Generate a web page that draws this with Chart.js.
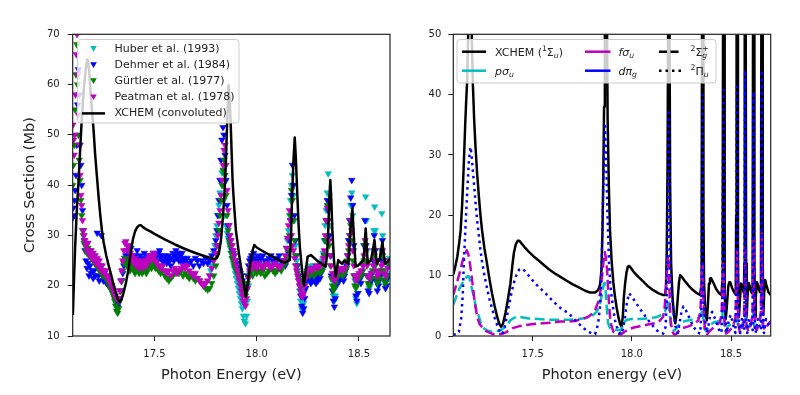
<!DOCTYPE html>
<html>
<head>
<meta charset="utf-8">
<script src="https://cdn.jsdelivr.net/npm/chart.js@4.4.1/dist/chart.umd.min.js"></script>
<style>
  html, body { margin: 0; padding: 0; background: #fff; }
  #wrap { position: relative; width: 800px; height: 395px; overflow: hidden; }
  .panel { position: absolute; top: 0; width: 400px; height: 395px; }
</style>
</head>
<body>
<div id="wrap">
  <div class="panel" style="left:0"><canvas id="leftChart"></canvas></div>
  <div class="panel" style="left:400px"><canvas id="rightChart"></canvas></div>
</div>
<script>
// ---- data: [photon energy (eV), cross section (Mb)] ----
const xTicks = [17.5, 18.0, 18.5];

const dehmer = [[17.100,33.5],[17.103,35.5],[17.106,34],[17.109,37],[17.112,39],[17.116,42],[17.120,48],[17.124,56],[17.128,63],[17.132,58],[17.136,48],[17.140,44],[17.144,40],[17.148,35],[17.152,31],[17.156,29],
[17.160,27],[17.165,25],[17.170,23.5],[17.175,24.5],[17.180,22],[17.185,24],[17.190,22.5],[17.195,23],[17.200,21.5],[17.205,23],[17.210,22],[17.215,24],[17.220,30.5],[17.225,22],[17.230,21],[17.235,23],[17.240,30],[17.245,22],[17.250,21],[17.255,22.5],[17.260,21],[17.265,20.5],[17.270,21.5],[17.275,20],[17.280,21],[17.285,19.5],[17.290,20],[17.295,19],[17.300,18.5],[17.305,17.5],[17.310,17],[17.315,16],[17.320,15.8],[17.325,16.5],[17.330,17.5],[17.335,19],[17.340,21],[17.345,22.5],[17.350,24],[17.355,25.5],[17.360,26],[17.365,27],[17.370,26],[17.375,25],[17.380,26.5],[17.385,27.5],[17.390,26],[17.395,25],[17.400,24.5],[17.405,26],[17.410,25],[17.415,27],[17.420,25.5],[17.425,24.5],[17.430,26],[17.435,25],[17.440,24],[17.445,25.5],[17.450,26.5],[17.455,25],[17.460,24.5],[17.465,26],[17.470,25],[17.475,24.5],[17.480,25.5],[17.485,26],[17.490,25],[17.495,26.5],[17.500,25],[17.505,24.5],[17.510,26],[17.515,25],[17.520,26.5],[17.525,27],[17.530,25.5],[17.535,26],[17.540,25],[17.545,24.5],[17.550,26],[17.555,25.5],[17.560,24.5],[17.565,25],[17.570,26],[17.575,25],[17.580,24],[17.585,25.5],[17.590,26.5],[17.595,25],[17.600,26],[17.605,27],[17.610,25.5],[17.615,26.5],[17.620,25],[17.625,26],[17.630,25],[17.635,26.5],[17.640,25.5],[17.645,24.5],[17.650,25],[17.660,25.5],[17.670,24.5],[17.680,25],[17.690,24],[17.700,25.5],[17.710,25],[17.720,24],[17.730,25],[17.740,24.5],[17.750,25.5],[17.760,24.5],[17.770,25],[17.780,26],[17.790,27],[17.800,29],[17.805,31],[17.810,34],[17.815,37],[17.820,41],[17.825,45],[17.830,49],[17.835,51.5],[17.840,50],[17.845,46],[17.850,41],[17.855,36],[17.860,32],[17.865,30],[17.870,29],[17.875,28],[17.880,27],[17.885,26.5],[17.890,26],[17.895,25],[17.900,24.5],[17.905,24],[17.910,23.5],[17.915,23],[17.920,22.5],[17.925,22],[17.930,21],[17.935,20.5],[17.940,19.5],[17.945,19],[17.950,20],[17.955,22],[17.960,24],[17.965,25],[17.970,25.5],[17.975,26],[17.980,25],[17.985,26.5],[17.990,25.5],[17.995,24.5],[18.000,25],[18.005,26],[18.010,24.5],[18.020,25.5],[18.030,26],[18.040,25],[18.050,24.5],[18.060,25.5],[18.070,26],[18.080,25],[18.090,24.5],[18.100,25.5],[18.110,26],[18.120,25],[18.130,24.5],[18.140,24],[18.150,25],[18.155,26.5],[18.160,29],[18.165,33],[18.170,38],[18.175,44],[18.180,40],[18.185,34],[18.190,29],[18.195,26],[18.200,24],[18.205,22],[18.210,20],[18.215,18],[18.220,16],[18.225,14.6],[18.230,15.5],[18.235,17.5],[18.240,19.5],[18.245,21],[18.250,21.5],[18.255,22],[18.260,21],[18.265,20.5],[18.270,21.5],[18.275,21],[18.280,22],[18.285,21],[18.290,20.5],[18.295,21.5],[18.300,21],[18.305,22],[18.310,21.5],[18.315,22.5],[18.320,23],[18.325,24],[18.330,26],[18.335,29],[18.340,33],[18.345,37],[18.350,35],[18.355,30],[18.360,26],[18.365,22],[18.370,19],[18.375,17],[18.380,15.8],[18.385,17.5],[18.390,20],[18.395,21.5],[18.400,22],[18.405,21],[18.410,22.5],[18.415,21.5],[18.420,22],[18.425,21],[18.430,22],[18.435,23],[18.440,24],[18.445,26],[18.450,29],[18.455,33],[18.460,37.5],[18.465,41],[18.470,36],[18.475,28],[18.480,22],[18.485,18],[18.490,17],[18.495,18.5],[18.500,21],[18.505,21.5],[18.510,20.5],[18.515,22],[18.520,24],[18.525,28],[18.530,33],[18.535,28],[18.540,22],[18.545,19],[18.550,18.5],[18.555,20.5],[18.560,21],[18.565,22.5],[18.570,25],[18.575,30],[18.580,27],[18.585,21],[18.590,19],[18.595,20],[18.600,21],[18.605,22],[18.610,25],[18.615,29],[18.620,25],[18.625,21],[18.630,19.5],[18.635,20],[18.640,21.5],[18.645,22],[18.650,24]];

const gurtler = [[17.100,40],[17.104,44],[17.108,48],[17.112,55],[17.116,62],[17.120,68],[17.124,60],[17.128,50],[17.132,45],[17.136,41],[17.140,37],[17.144,34],[17.148,31],[17.152,30],[17.156,28.5],
[17.160,28],[17.165,27],[17.170,26.5],[17.175,27.5],[17.180,26],[17.185,27],[17.190,25.5],[17.195,26.5],[17.200,25],[17.205,26],[17.210,25],[17.215,24],[17.220,25],[17.225,24],[17.230,23],[17.235,24],[17.240,23],[17.245,22],[17.250,23],[17.255,22],[17.260,21.5],[17.265,22],[17.270,21],[17.275,20.5],[17.280,20],[17.285,19.5],[17.290,19],[17.295,18.5],[17.300,18],[17.305,17],[17.310,16],[17.315,15],[17.320,14.6],[17.325,15.5],[17.330,17],[17.335,19],[17.340,21],[17.345,23],[17.350,24.5],[17.355,25.5],[17.360,25],[17.365,24],[17.370,25],[17.375,24],[17.380,23],[17.385,24],[17.390,23.5],[17.395,24.5],[17.400,23],[17.405,22.5],[17.410,23.5],[17.415,24],[17.420,23],[17.425,22.5],[17.430,24],[17.435,23.5],[17.440,22.5],[17.445,23],[17.450,24],[17.455,23.5],[17.460,22.5],[17.465,23],[17.470,24],[17.475,25],[17.480,24.5],[17.485,23.5],[17.490,24],[17.495,25],[17.500,24.5],[17.505,23.5],[17.510,24],[17.520,23],[17.530,22.5],[17.540,23],[17.550,22],[17.560,21.5],[17.570,21],[17.580,21.5],[17.590,22],[17.600,22.5],[17.610,23],[17.620,22.5],[17.630,23],[17.640,22],[17.650,22.5],[17.660,22],[17.670,21.5],[17.680,22],[17.690,21.5],[17.700,21],[17.710,21.5],[17.720,21],[17.730,20.5],[17.740,20],[17.750,19.5],[17.760,19.2],[17.770,19.5],[17.780,20.5],[17.790,22],[17.800,24],[17.805,26],[17.810,28],[17.815,31],[17.820,34],[17.825,37],[17.830,40],[17.835,43],[17.840,45],[17.845,42],[17.850,38],[17.855,34],[17.860,31],[17.865,29],[17.870,28],[17.875,26.5],[17.880,25.5],[17.885,25],[17.890,24],[17.895,23.5],[17.900,23],[17.905,22.5],[17.910,22],[17.915,21.5],[17.920,21],[17.925,20.5],[17.930,20],[17.935,19],[17.940,18.5],[17.945,18],[17.950,19],[17.955,20.5],[17.960,21.5],[17.965,22],[17.970,22.5],[17.980,22],[17.990,23],[18.000,22.5],[18.010,23],[18.020,22.5],[18.030,23],[18.040,22],[18.050,22.5],[18.060,23],[18.070,23.5],[18.080,23],[18.090,22.5],[18.100,23],[18.110,23.5],[18.120,23],[18.130,24],[18.140,24.5],[18.150,25.5],[18.155,27],[18.160,30],[18.165,34],[18.170,39],[18.175,37],[18.180,33],[18.185,29],[18.190,26],[18.195,24],[18.200,22.5],[18.205,21.5],[18.210,21],[18.215,20.5],[18.220,20],[18.225,20.5],[18.230,21],[18.235,21.5],[18.240,22],[18.250,22.5],[18.260,22],[18.270,22.5],[18.280,22],[18.290,22.5],[18.300,23],[18.310,22.5],[18.320,23],[18.325,24],[18.330,26],[18.335,29],[18.340,33],[18.345,36],[18.350,33],[18.355,28],[18.360,24],[18.365,21.5],[18.370,20],[18.375,19],[18.380,19.5],[18.385,20.5],[18.390,21.5],[18.400,22],[18.410,22.5],[18.420,22],[18.430,22.5],[18.440,23.5],[18.445,25],[18.450,27],[18.455,30],[18.460,32],[18.465,29],[18.470,25],[18.475,22],[18.480,20],[18.485,19.5],[18.490,20],[18.500,21.5],[18.510,22],[18.520,23],[18.525,25],[18.530,28],[18.535,25],[18.540,22],[18.545,20.5],[18.550,20],[18.560,21.5],[18.570,23],[18.575,26],[18.580,24],[18.585,21.5],[18.590,20.5],[18.600,21.5],[18.610,23],[18.615,26],[18.620,23],[18.625,21],[18.630,20.5],[18.640,22],[18.650,24]];

const peatman = [[17.101,52],[17.104,49],[17.107,46],[17.110,50],[17.114,58],[17.118,66],[17.121,70],[17.124,62],[17.128,54],[17.132,48],[17.136,42],[17.140,38],[17.144,36],[17.148,33],[17.152,31],[17.156,30],
[17.160,29],[17.165,28],[17.170,27],[17.175,28.5],[17.180,27],[17.185,26],[17.190,27],[17.195,25.5],[17.200,26.5],[17.205,25],[17.210,26],[17.215,24.5],[17.220,25.5],[17.225,24],[17.230,25],[17.235,24],[17.240,23],[17.245,24],[17.250,23],[17.255,22.5],[17.260,23],[17.265,22],[17.270,21.5],[17.275,22],[17.280,21],[17.285,20.5],[17.290,20],[17.295,19.5],[17.300,19],[17.305,18.5],[17.310,18],[17.315,17.5],[17.320,17.2],[17.325,17.5],[17.330,19],[17.335,21],[17.340,23],[17.345,25],[17.350,27],[17.355,28.5],[17.360,28.8],[17.365,28],[17.370,27],[17.375,28],[17.380,26.5],[17.385,25.5],[17.390,26],[17.395,25],[17.400,24.5],[17.405,25.5],[17.410,24],[17.415,25],[17.420,24.5],[17.425,23.5],[17.430,24.5],[17.435,25],[17.440,24],[17.445,23.5],[17.450,24.5],[17.455,25],[17.460,24],[17.465,25],[17.470,25.5],[17.475,26],[17.480,25],[17.485,26],[17.490,25.5],[17.495,26.5],[17.500,26],[17.505,25],[17.510,24.5],[17.520,24],[17.530,23.5],[17.540,24],[17.550,23],[17.560,22.5],[17.570,23],[17.580,22],[17.590,23],[17.600,23.5],[17.610,22.5],[17.620,23],[17.630,23.5],[17.640,24],[17.650,23.5],[17.660,24],[17.670,23],[17.680,22.5],[17.690,22],[17.700,22.5],[17.710,21.5],[17.720,21],[17.730,20.5],[17.740,20],[17.750,20.5],[17.760,21],[17.770,22],[17.780,23.5],[17.790,25],[17.800,26.5],[17.805,28],[17.810,30],[17.815,32.5],[17.820,35],[17.825,38],[17.830,41],[17.835,44],[17.840,47],[17.845,48],[17.850,44],[17.855,39],[17.860,35],[17.865,32],[17.870,30],[17.875,29],[17.880,28],[17.885,27],[17.890,26],[17.895,25],[17.900,24],[17.905,23],[17.910,22],[17.915,21],[17.920,20],[17.925,19],[17.930,18],[17.935,17],[17.940,16.5],[17.945,16],[17.950,17.5],[17.955,19.5],[17.960,21.5],[17.965,23],[17.970,24],[17.975,23.5],[17.980,24.5],[17.990,24],[18.000,23.5],[18.010,24.5],[18.020,24],[18.030,23.5],[18.040,24],[18.050,24.5],[18.060,24],[18.070,23.5],[18.080,24],[18.090,24.5],[18.100,24],[18.110,23.5],[18.120,24],[18.130,25],[18.140,26],[18.145,27.5],[18.150,29.5],[18.155,32],[18.160,35],[18.165,33],[18.170,30],[18.175,28],[18.180,27],[18.185,25.5],[18.190,24],[18.195,23],[18.200,22],[18.205,21],[18.210,20],[18.215,19],[18.220,18],[18.225,17.8],[18.230,18.5],[18.235,20],[18.240,21.5],[18.245,22.5],[18.250,23],[18.260,23.5],[18.270,23],[18.280,23.5],[18.290,24],[18.300,23.5],[18.310,24],[18.320,24.5],[18.325,25.5],[18.330,27],[18.335,30],[18.340,33],[18.345,35.5],[18.350,33],[18.355,29],[18.360,26],[18.365,24],[18.370,22.5],[18.375,21.5],[18.380,21],[18.385,21.5],[18.390,22.5],[18.400,23],[18.410,23.5],[18.420,23],[18.430,23.5],[18.440,24.5],[18.445,26],[18.450,28],[18.455,30],[18.460,33],[18.465,31],[18.470,27],[18.475,24],[18.480,22],[18.485,21],[18.490,21.5],[18.500,22.5],[18.510,23],[18.520,24],[18.525,26],[18.530,29],[18.535,27],[18.540,24],[18.545,22],[18.550,21.5],[18.560,22.5],[18.570,24],[18.575,27],[18.580,25],[18.585,23],[18.590,22],[18.600,22.5],[18.610,24],[18.615,27],[18.620,24.5],[18.625,22.5],[18.630,22],[18.640,23.5],[18.650,25]];

const huber = [[17.770,22],[17.775,23],[17.780,24],[17.785,25],[17.790,26.5],[17.795,28],[17.800,30],[17.805,32],[17.810,34],[17.815,36],[17.820,38.5],[17.825,41],[17.830,42.5],[17.835,40],[17.840,37],[17.845,34],[17.850,32],[17.855,30.5],[17.860,29.5],[17.865,28.5],[17.870,27.5],[17.875,26.5],[17.880,25.5],[17.885,24.5],[17.890,23.5],[17.895,22.5],[17.900,21.5],[17.905,20.5],[17.910,19.5],[17.915,18.5],[17.920,17.5],[17.925,16.5],[17.930,15.5],[17.935,14],[17.940,13],[17.945,12.5],[17.950,14],[17.955,17],[17.960,20],[17.965,22.5],[17.970,24],[17.980,24.5],[17.990,24],[18.000,24.5],[18.010,25],[18.020,24.5],[18.030,24],[18.040,24.5],[18.050,25],[18.060,24.5],[18.070,24],[18.080,24.5],[18.090,25],[18.100,24.5],[18.110,24],[18.120,24.5],[18.130,25],[18.140,26],[18.145,27.5],[18.150,29],[18.155,31],[18.160,34],[18.165,37],[18.170,40],[18.175,42],[18.180,38],[18.185,33],[18.190,28],[18.195,25],[18.200,23],[18.205,21],[18.210,19],[18.215,17],[18.220,15.5],[18.225,15],[18.230,16.5],[18.235,19],[18.240,21.5],[18.245,23],[18.250,23.5],[18.260,24],[18.270,23.5],[18.280,24],[18.290,23.5],[18.300,24],[18.310,24.5],[18.320,25],[18.325,26.5],[18.330,29],[18.335,32],[18.340,35],[18.345,38.5],[18.350,42.3],[18.355,38],[18.360,32],[18.365,26],[18.370,21],[18.375,18],[18.380,17],[18.385,18],[18.390,20.5],[18.400,22.5],[18.410,23],[18.420,23.5],[18.430,23],[18.440,24],[18.445,26],[18.450,29],[18.455,33],[18.460,36],[18.465,38.5],[18.470,34],[18.475,27],[18.480,21],[18.485,17.5],[18.490,16.5],[18.495,18.5],[18.500,21],[18.510,22.5],[18.520,24.5],[18.525,28],[18.530,33],[18.533,37.7],[18.537,33],[18.540,27],[18.545,22],[18.550,19.5],[18.555,20],[18.560,21.5],[18.565,23],[18.570,27],[18.573,31],[18.577,35.7],[18.580,31],[18.585,25],[18.590,21],[18.595,20],[18.600,21.5],[18.605,23],[18.608,27],[18.612,34.4],[18.616,30],[18.620,25],[18.625,21.5],[18.630,20],[18.635,21],[18.640,22.5],[18.645,24],[18.650,25.5]];

const xchemConv = [[17.101,14.2],[17.106,21],[17.112,27.7],[17.120,35],[17.129,41],[17.137,47.5],[17.145,53.6],[17.155,59.5],[17.165,63.5],[17.172,65],[17.180,63],[17.190,57],[17.202,51],[17.210,46],[17.219,41.5],[17.227,37.5],[17.235,34],[17.243,31],[17.252,28.5],[17.264,26],[17.276,24],[17.289,22],[17.301,20],[17.313,18.3],[17.322,17.2],[17.330,16.8],[17.338,17.2],[17.348,18.5],[17.360,20.5],[17.374,23.5],[17.385,27],[17.395,29.3],[17.405,30.8],[17.415,31.6],[17.425,32],[17.433,32.05],[17.445,31.6],[17.460,31.2],[17.480,30.8],[17.500,30.3],[17.550,29.2],[17.600,28.2],[17.650,27.3],[17.700,26.5],[17.750,25.8],[17.790,25.3],[17.805,25.5],[17.815,26.5],[17.825,29],[17.835,33.7],[17.843,39],[17.849,44.3],[17.855,52],[17.862,59.9],[17.868,57],[17.873,52],[17.877,47],[17.882,41],[17.887,37.5],[17.898,31.1],[17.915,25.8],[17.931,21.8],[17.947,17.8],[17.958,21],[17.969,24.4],[17.980,27],[17.988,28.1],[18.000,27.6],[18.037,26.7],[18.086,25.6],[18.136,24.6],[18.162,25.1],[18.168,30],[18.173,37.7],[18.180,45],[18.186,49.5],[18.192,45],[18.199,37.7],[18.205,32],[18.211,27.7],[18.222,23],[18.232,20.1],[18.240,23],[18.249,25.8],[18.265,26.1],[18.301,24.8],[18.337,23.8],[18.344,26],[18.350,31.1],[18.355,37],[18.360,41],[18.365,37],[18.370,31.1],[18.378,25],[18.386,21.8],[18.399,25.1],[18.410,24.6],[18.418,24.4],[18.428,25],[18.440,24.6],[18.448,24.4],[18.453,27],[18.458,31.1],[18.468,35.4],[18.477,28.4],[18.484,23.8],[18.495,24],[18.505,24.4],[18.522,25.1],[18.528,28],[18.533,31.4],[18.538,28],[18.543,24.4],[18.559,25.1],[18.568,27],[18.576,29.1],[18.582,26.5],[18.588,24.4],[18.601,25.1],[18.608,26.8],[18.615,28.7],[18.621,26.5],[18.628,24.4],[18.640,24.8],[18.648,25.1],[18.660,26]];

// right panel: XCHEM (1Σu) total and partial cross sections
const xchemTotal = [[17.100,10.2],[17.110,11.5],[17.120,13.1],[17.130,15.5],[17.137,17.5],[17.145,22],[17.153,28.6],[17.160,35],[17.165,39],[17.170,42.4],[17.175,50],[17.180,62],[17.184,68],[17.188,62],[17.193,50],[17.198,42.4],[17.205,36],[17.212,31.3],[17.220,27],[17.229,23.1],[17.237,20],[17.245,17.5],[17.257,14.5],[17.270,12.0],[17.282,9.5],[17.295,7.1],[17.308,5.0],[17.321,3.2],[17.332,2.0],[17.341,1.5],[17.350,2.0],[17.356,2.8],[17.363,3.8],[17.375,6.0],[17.388,8.7],[17.397,11.5],[17.405,13.7],[17.415,15.2],[17.425,15.8],[17.433,15.8],[17.445,15.3],[17.460,14.7],[17.480,14.0],[17.505,13.2],[17.530,12.5],[17.555,11.8],[17.580,11.1],[17.610,10.4],[17.640,9.8],[17.670,9.2],[17.700,8.6],[17.730,8.1],[17.765,7.5],[17.790,7.2],[17.815,7.2],[17.830,7.6],[17.840,8.5],[17.847,11],[17.852,17.5],[17.856,26],[17.860,38],[17.864,60],[17.870,70],[17.874,55],[17.878,36],[17.884,25],[17.890,17.5],[17.898,12.5],[17.907,8.8],[17.915,6.5],[17.924,4.6],[17.933,3.0],[17.941,2.0],[17.949,1.5],[17.955,3.5],[17.960,6.5],[17.966,8.7],[17.973,10.5],[17.980,11.5],[17.987,11.6],[17.995,11.3],[18.010,10.6],[18.033,9.8],[18.058,9.0],[18.083,8.2],[18.108,7.6],[18.133,7.1],[18.155,6.8],[18.167,6.8],[18.172,8],[18.176,14],[18.180,28],[18.183,52],[18.186,70],[18.190,52],[18.193,25],[18.198,12],[18.205,6.5],[18.212,3.5],[18.219,2.1],[18.225,3.5],[18.232,6.5],[18.238,9],[18.244,10.1],[18.250,9.9],[18.265,9.2],[18.285,8.4],[18.305,7.7],[18.328,7.1],[18.344,6.8],[18.349,8],[18.352,20],[18.354,55],[18.359,55],[18.361,20],[18.364,9],[18.370,4],[18.378,2.6],[18.383,5],[18.389,8.7],[18.394,9.5],[18.399,9.6],[18.410,8.9],[18.425,7.8],[18.440,7.1],[18.452,6.8],[18.456,9],[18.458,20],[18.460,55],[18.465,55],[18.467,20],[18.469,7],[18.473,2.8],[18.478,4.5],[18.486,8.2],[18.491,8.9],[18.496,8.9],[18.505,8],[18.515,7.3],[18.521,7],[18.524,9],[18.526,20],[18.528,55],[18.533,55],[18.535,14],[18.537,6],[18.540,3.2],[18.545,6],[18.550,8.7],[18.555,8.5],[18.562,7.4],[18.565,7.1],[18.567,12],[18.569,55],[18.574,55],[18.576,12],[18.579,3.2],[18.583,6.5],[18.589,8.8],[18.595,8.2],[18.603,7.2],[18.607,7.1],[18.609,12],[18.611,55],[18.616,55],[18.618,12],[18.621,3.2],[18.625,6.5],[18.631,8.9],[18.637,8.3],[18.645,7.3],[18.649,7.2],[18.651,12],[18.653,55],[18.658,55],[18.660,12],[18.663,3.5],[18.667,7],[18.672,9.3],[18.678,8.5],[18.688,7.3],[18.700,6.8]];

const pSigmaU = [[17.100,5.2],[17.115,6.5],[17.130,7.8],[17.145,8.7],[17.160,9.5],[17.170,9.9],[17.178,9.9],[17.186,9.0],[17.195,7.6],[17.204,6.5],[17.215,4.6],[17.229,3.2],[17.240,2.1],[17.254,1.3],[17.270,0.9],[17.295,0.7],[17.320,0.8],[17.340,1.0],[17.363,1.5],[17.375,2.0],[17.388,2.6],[17.405,3.0],[17.421,3.2],[17.445,3.1],[17.480,2.9],[17.530,2.8],[17.580,2.7],[17.630,2.7],[17.680,2.7],[17.730,2.8],[17.770,3.0],[17.798,3.3],[17.823,4.0],[17.840,5.4],[17.850,7.0],[17.858,8.5],[17.863,8.8],[17.868,7.5],[17.874,4.5],[17.880,2.2],[17.890,1.3],[17.905,1.1],[17.925,1.0],[17.945,1.0],[17.952,1.5],[17.960,2.3],[17.975,2.7],[18.000,2.8],[18.040,2.8],[18.080,2.9],[18.120,3.1],[18.150,3.5],[18.167,4.0],[18.177,5.2],[18.184,6.0],[18.190,4],[18.196,1.8],[18.205,1.0],[18.215,0.9],[18.228,1.4],[18.245,2.2],[18.270,2.5],[18.300,2.7],[18.330,2.9],[18.348,3.3],[18.355,4.5],[18.360,3.0],[18.366,1.2],[18.375,0.8],[18.390,1.6],[18.410,2.2],[18.440,2.5],[18.455,3.0],[18.460,4.5],[18.465,2.0],[18.472,0.8],[18.485,1.6],[18.505,2.2],[18.525,2.5],[18.530,4.0],[18.535,1.5],[18.545,1.2],[18.560,2.2],[18.570,3.8],[18.575,1.5],[18.585,1.3],[18.600,2.2],[18.612,3.8],[18.617,1.5],[18.628,1.4],[18.640,2.2],[18.654,3.8],[18.660,1.5],[18.672,1.6],[18.690,2.2],[18.700,2.3]];

const fSigmaU = [[17.100,6.8],[17.115,8.5],[17.130,10.2],[17.145,12.2],[17.158,13.6],[17.168,14.2],[17.176,13.5],[17.184,12.0],[17.192,10],[17.200,7.8],[17.208,5.6],[17.220,3.2],[17.232,2.0],[17.245,1.5],[17.262,0.9],[17.279,0.6],[17.300,0.3],[17.330,0.3],[17.350,0.4],[17.365,0.6],[17.380,0.9],[17.400,1.3],[17.430,1.6],[17.463,1.8],[17.505,2.0],[17.550,2.1],[17.600,2.2],[17.640,2.4],[17.680,2.4],[17.714,2.5],[17.750,2.8],[17.781,3.2],[17.800,3.7],[17.815,4.3],[17.830,5.6],[17.840,7.0],[17.847,9],[17.853,10.9],[17.859,13],[17.864,13.9],[17.869,13.0],[17.875,11],[17.880,8.0],[17.885,5.4],[17.890,3.2],[17.895,2.0],[17.907,0.7],[17.920,0.3],[17.945,0.3],[17.960,0.6],[17.980,1.1],[18.010,1.4],[18.040,1.6],[18.080,1.9],[18.116,2.1],[18.140,2.5],[18.158,3.2],[18.166,5],[18.172,8],[18.178,12],[18.183,13.4],[18.187,11],[18.191,6],[18.196,2.5],[18.203,0.8],[18.212,0.3],[18.222,0.3],[18.235,0.8],[18.255,1.3],[18.285,1.6],[18.315,2.0],[18.335,2.6],[18.345,4],[18.350,7],[18.354,11],[18.357,12],[18.360,8],[18.364,3],[18.370,0.6],[18.380,0.3],[18.395,0.9],[18.420,1.6],[18.445,2.3],[18.453,4],[18.458,9],[18.461,12],[18.464,8],[18.468,2.5],[18.475,0.4],[18.490,0.8],[18.510,1.6],[18.522,3],[18.527,8],[18.530,14],[18.533,8],[18.537,2],[18.545,0.5],[18.555,1.2],[18.565,2.5],[18.569,8],[18.571,15],[18.574,8],[18.578,1.5],[18.588,0.8],[18.600,1.8],[18.608,3.5],[18.611,10],[18.613,16],[18.616,8],[18.620,1.5],[18.630,1.0],[18.642,2],[18.650,4],[18.653,10],[18.655,17],[18.658,8],[18.662,1.5],[18.672,1.0],[18.688,2.0],[18.700,2.4]];

const dPiG = [[17.100,0.3],[17.115,0.2],[17.128,0.7],[17.140,3],[17.148,7],[17.153,12],[17.160,17],[17.165,20.5],[17.172,25],[17.178,28.7],[17.183,30.5],[17.187,31.3],[17.192,30],[17.198,27.6],[17.205,25],[17.212,22.1],[17.220,19.2],[17.229,16.6],[17.237,14.2],[17.245,12.3],[17.257,10],[17.270,7.9],[17.283,6.0],[17.295,4.6],[17.308,3.1],[17.321,1.8],[17.334,0.8],[17.346,0.3],[17.355,1.0],[17.363,2.1],[17.371,3.4],[17.379,4.9],[17.388,6.3],[17.396,7.6],[17.408,9.1],[17.421,10.4],[17.432,11.0],[17.443,11.2],[17.457,10.9],[17.471,10.4],[17.490,9.6],[17.513,8.7],[17.538,7.9],[17.564,7.1],[17.590,6.2],[17.614,5.4],[17.648,4.4],[17.681,3.8],[17.706,2.9],[17.731,2.1],[17.756,1.3],[17.781,0.7],[17.800,0.4],[17.815,0.3],[17.830,2],[17.840,5],[17.848,12],[17.853,20],[17.858,28.7],[17.862,33],[17.865,34.8],[17.869,31],[17.875,23],[17.880,17],[17.885,12],[17.892,8.5],[17.898,6.5],[17.907,4.3],[17.915,2.6],[17.924,1.6],[17.932,0.9],[17.940,0.5],[17.949,0.3],[17.957,1.5],[17.966,3.2],[17.975,5.5],[17.986,7.1],[17.998,6.6],[18.015,5.8],[18.033,4.9],[18.058,3.7],[18.083,2.6],[18.108,1.6],[18.133,0.7],[18.158,0.4],[18.170,1.5],[18.176,6],[18.180,16],[18.183,30],[18.185,37.5],[18.188,30],[18.192,16],[18.197,9],[18.204,6],[18.212,3.5],[18.219,1.8],[18.226,0.8],[18.232,0.5],[18.240,2.0],[18.250,4.0],[18.260,4.9],[18.272,4.3],[18.290,3.0],[18.310,1.6],[18.330,0.6],[18.345,0.4],[18.351,5],[18.354,25],[18.356,40],[18.358,25],[18.361,8],[18.366,4],[18.372,2],[18.378,0.5],[18.385,1.5],[18.395,3.5],[18.405,4.0],[18.420,2.8],[18.440,1.0],[18.452,0.5],[18.457,8],[18.460,30],[18.462,41.3],[18.464,30],[18.467,8],[18.472,2.5],[18.478,0.5],[18.488,2.5],[18.498,3.5],[18.510,2.0],[18.522,0.5],[18.526,8],[18.528,30],[18.530,41.3],[18.532,30],[18.535,8],[18.540,2],[18.546,0.5],[18.555,2.8],[18.563,1.5],[18.567,1],[18.569,20],[18.571,44],[18.573,20],[18.577,3],[18.582,0.5],[18.592,2.8],[18.603,1.5],[18.609,1],[18.611,20],[18.613,40.5],[18.615,20],[18.619,3],[18.624,0.5],[18.634,2.8],[18.645,1.5],[18.651,1],[18.653,20],[18.655,44],[18.657,20],[18.661,3],[18.666,0.5],[18.676,2.8],[18.690,1.8],[18.700,1.2]];

// ---- styling ----
const FAM = "'DejaVu Sans', sans-serif";
const INK = '#222';
const C_CYAN = '#00bfbf', C_BLUE = '#0000ff', C_GREEN = '#008000', C_MAG = '#bf00bf';

const toXY = pts => pts.map(p => ({ x: p[0], y: p[1] }));

function xAxis(min, max, title) {
    return {
        type: 'linear', min: min, max: max,
        afterBuildTicks: s => { s.ticks = xTicks.map(v => ({ value: v })); },
        afterFit: s => { s.height = 59; },
        ticks: { callback: v => Number(v).toFixed(1), font: { family: FAM, size: 10 }, color: INK, padding: 7, maxRotation: 0, autoSkip: false },
        grid: { drawOnChartArea: false, drawTicks: true, tickLength: 5, color: INK, lineWidth: 1 },
        border: { display: false },
        title: { display: true, text: title, font: { family: FAM, size: 14.5 }, color: INK, padding: { top: 0, bottom: 11 } }
    };
}

function yAxis(min, max, width, pad, title) {
    return {
        type: 'linear', min: min, max: max,
        afterFit: s => { s.width = width; },
        ticks: { stepSize: 10, font: { family: FAM, size: 10 }, color: INK, padding: pad },
        grid: { drawOnChartArea: false, drawTicks: true, tickLength: 5, color: INK, lineWidth: 1 },
        border: { display: false },
        title: { display: !!title, text: title || '', font: { family: FAM, size: 14.5 }, color: INK, padding: { top: 22, bottom: 0 } }
    };
}

function frame(chart) {
    const a = chart.chartArea, ctx = chart.ctx;
    ctx.save();
    ctx.strokeStyle = INK;
    ctx.lineWidth = 1.2;
    ctx.strokeRect(a.left, a.top, a.right - a.left, a.bottom - a.top);
    ctx.restore();
}

function legendBox(ctx, x, y, w, h) {
    ctx.beginPath();
    ctx.roundRect(x, y, w, h, 3);
    ctx.fillStyle = 'rgba(255,255,255,0.8)';
    ctx.fill();
    ctx.strokeStyle = '#cccccc';
    ctx.lineWidth = 1;
    ctx.stroke();
}

function downTri(ctx, cx, cy, r, color) {
    ctx.beginPath();
    ctx.moveTo(cx - r * 0.866, cy - r * 0.5);
    ctx.lineTo(cx + r * 0.866, cy - r * 0.5);
    ctx.lineTo(cx, cy + r);
    ctx.closePath();
    ctx.fillStyle = color;
    ctx.fill();
}

function seg(ctx, x1, x2, y, color, dash) {
    ctx.beginPath();
    ctx.setLineDash(dash || []);
    ctx.moveTo(x1, y);
    ctx.lineTo(x2, y);
    ctx.strokeStyle = color;
    ctx.lineWidth = 2.5;
    ctx.stroke();
    ctx.setLineDash([]);
}

// parts: [text, kind, italic]; kind: b = base, sub, sup, supb = sup stacked over previous sub
function drawRich(ctx, x, yc, parts) {
    const base = yc + 4;
    let cx = x, subStart = x;
    ctx.fillStyle = INK;
    ctx.textBaseline = 'alphabetic';
    ctx.textAlign = 'left';
    for (const p of parts) {
        const t = p[0], kind = p[1], it = p[2];
        const size = kind === 'b' ? 11 : 7.7;
        ctx.font = (it ? 'italic ' : '') + size + 'px ' + FAM;
        const dy = kind === 'sub' ? 2.5 : (kind === 'b' ? 0 : -4.5);
        let px = cx;
        if (kind === 'supb') px = subStart;
        if (kind === 'sub') subStart = cx;
        ctx.fillText(t, px, base + dy);
        const w = ctx.measureText(t).width;
        cx = kind === 'supb' ? Math.max(cx, px + w) : px + w;
    }
}

const leftDecor = {
    id: 'leftDecor',
    afterDatasetsDraw(chart) {
        frame(chart);
        const ctx = chart.ctx;
        ctx.save();
        legendBox(ctx, 77.5, 39.5, 161.5, 83.5);
        const rows = [
            ['Huber et al. (1993)', C_CYAN],
            ['Dehmer et al. (1984)', C_BLUE],
            ['Gürtler et al. (1977)', C_GREEN],
            ['Peatman et al. (1978)', C_MAG],
            ['XCHEM (convoluted)', null]
        ];
        ctx.font = '11px ' + FAM;
        ctx.textBaseline = 'middle';
        rows.forEach((r, i) => {
            const y = 49 + i * 16.1;
            if (r[1]) downTri(ctx, 93.5, y - 1, 3.8, r[1]);
            else seg(ctx, 82, 105, y, '#000');
            ctx.fillStyle = INK;
            ctx.fillText(r[0], 114.5, y);
        });
        ctx.restore();
    }
};

const rightDecor = {
    id: 'rightDecor',
    afterDatasetsDraw(chart) {
        frame(chart);
        const ctx = chart.ctx;
        ctx.save();
        legendBox(ctx, 57, 39.5, 259, 43.5);
        const r1 = 51.7, r2 = 70.7;
        seg(ctx, 62, 86, r1, '#000');
        drawRich(ctx, 95, r1, [['XCHEM (', 'b'], ['1', 'sup'], ['Σ', 'b'], ['u', 'sub', 1], [')', 'b']]);
        seg(ctx, 62, 86, r2, C_CYAN);
        drawRich(ctx, 95, r2, [['pσ', 'b', 1], ['u', 'sub', 1]]);
        seg(ctx, 185, 210.5, r1, C_MAG);
        drawRich(ctx, 218.5, r1, [['fσ', 'b', 1], ['u', 'sub', 1]]);
        seg(ctx, 185, 210.5, r2, C_BLUE);
        drawRich(ctx, 218.5, r2, [['dπ', 'b', 1], ['g', 'sub', 1]]);
        seg(ctx, 259, 281, r1, '#000', [8, 3.5]);
        drawRich(ctx, 290.5, r1, [['2', 'sup'], ['Σ', 'b'], ['g', 'sub', 1], ['+', 'supb']]);
        seg(ctx, 259, 281, r2, '#000', [2.5, 4]);
        drawRich(ctx, 290.5, r2, [['2', 'sup'], ['Π', 'b'], ['u', 'sub', 1]]);
        ctx.restore();
    }
};

function scatterSet(label, pts, color, order) {
    return {
        label: label, data: toXY(pts), order: order, clip: 0,
        pointStyle: 'triangle', rotation: 180, pointRadius: 3.8,
        backgroundColor: color, borderColor: color, pointBorderWidth: 0.5
    };
}

function lineSet(label, pts, color, width, dash, order) {
    return {
        label: label, data: toXY(pts), order: order, clip: 0, showLine: true,
        borderColor: color, borderWidth: width, borderDash: dash, borderJoinStyle: 'round',
        pointRadius: 0, tension: 0, fill: false
    };
}

const common = {
    responsive: true, maintainAspectRatio: false, animation: false, events: [],
    plugins: { legend: { display: false }, tooltip: { enabled: false } }
};

new Chart(document.getElementById('leftChart'), {
    type: 'scatter',
    data: {
        datasets: [
            lineSet('XCHEM (convoluted)', xchemConv, '#000', 2.5, [], 0),
            scatterSet('Peatman et al. (1978)', peatman, C_MAG, 1),
            scatterSet('Gürtler et al. (1977)', gurtler, C_GREEN, 2),
            scatterSet('Dehmer et al. (1984)', dehmer, C_BLUE, 3),
            scatterSet('Huber et al. (1993)', huber, C_CYAN, 4)
        ]
    },
    options: Object.assign({}, common, {
        layout: { padding: { left: 0, right: 10, top: 34.3, bottom: 0 } },
        scales: {
            x: xAxis(17.1, 18.652, 'Photon Energy (eV)'),
            y: yAxis(10, 70, 72.7, 8, 'Cross Section (Mb)')
        }
    }),
    plugins: [leftDecor]
});

new Chart(document.getElementById('rightChart'), {
    type: 'scatter',
    data: {
        datasets: [
            lineSet('dπg', dPiG, C_BLUE, 2.5, [2.5, 4], 0),
            lineSet('fσu', fSigmaU, C_MAG, 2.5, [10, 4.5], 1),
            lineSet('pσu', pSigmaU, C_CYAN, 2.5, [10, 4.5], 2),
            lineSet('XCHEM (1Σu)', xchemTotal, '#000', 2.5, [], 3)
        ]
    },
    options: Object.assign({}, common, {
        layout: { padding: { left: 0, right: 29.3, top: 34.3, bottom: 0 } },
        scales: {
            x: xAxis(17.1, 18.7, 'Photon energy (eV)'),
            y: yAxis(0, 50, 53.3, 7, null)
        }
    }),
    plugins: [rightDecor]
});
</script>
</body>
</html>
